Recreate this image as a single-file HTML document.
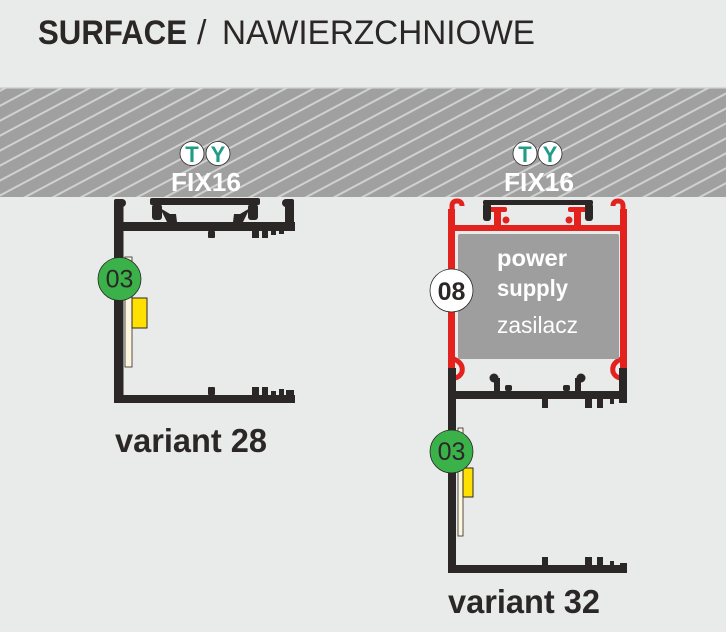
<!DOCTYPE html>
<html><head><meta charset="utf-8"><style>
html,body{margin:0;padding:0;background:#e9ebea;}
svg{display:block}
text{font-family:"Liberation Sans",sans-serif;}
</style></head><body>
<svg width="726" height="632" viewBox="0 0 726 632" xmlns="http://www.w3.org/2000/svg">
<defs>
<pattern id="h" patternUnits="userSpaceOnUse" width="30" height="13.2" patternTransform="rotate(-28)">
<rect width="30" height="13.2" fill="#a0a0a0"/>
<rect width="30" height="2" fill="#d0d2d1"/>
</pattern>
</defs>
<rect width="726" height="632" fill="#e9ebea"/>
<rect x="0" y="88" width="726" height="109" fill="url(#h)"/>
<rect x="0" y="87" width="726" height="1.5" fill="#d6d8d7"/>

<!-- Title -->
<text x="38" y="44" font-weight="bold" font-size="34" fill="#2b2727" textLength="149" lengthAdjust="spacingAndGlyphs">SURFACE</text>
<text x="197" y="44" font-size="34" fill="#2b2727">/</text>
<text x="222" y="44" font-size="34" fill="#2b2727" textLength="313" lengthAdjust="spacingAndGlyphs">NAWIERZCHNIOWE</text>

<!-- LEFT PROFILE (variant 28) -->
<g fill="#2b2727">
<rect x="114" y="199" width="9.5" height="204" rx="2"/>
<circle cx="122" cy="203" r="4"/>
<rect x="114" y="222" width="181" height="9"/>
<rect x="285" y="199" width="9" height="32" rx="2"/>
<circle cx="286" cy="203" r="4"/>
<rect x="114" y="395" width="181" height="8"/>
<rect x="208" y="231" width="7" height="7" rx="1"/>
<rect x="252" y="231" width="7" height="7"/>
<rect x="262" y="231" width="6" height="7"/>
<rect x="271" y="231" width="5" height="4"/>
<rect x="279" y="231" width="5" height="3"/>
<rect x="208" y="387" width="7" height="8" rx="1"/>
<rect x="252" y="387" width="7" height="8"/>
<rect x="262" y="387" width="6" height="8"/>
<rect x="271" y="391" width="5" height="4"/>
<rect x="279" y="389" width="5" height="6"/>
<rect x="286" y="390" width="8" height="5"/>
<rect x="150" y="198" width="110" height="7" rx="2"/>
<rect x="152" y="204" width="10" height="16" rx="3"/>
<path d="M160,208 L170,214 L176,214 L177,222 L167,222 L164,216 Z"/>
<rect x="248" y="204" width="10" height="16" rx="3"/>
<path d="M250,208 L240,214 L234,214 L233,222 L243,222 L246,216 Z"/>
</g>
<rect x="125" y="257" width="7" height="110" fill="#fdf6dc" stroke="#2b2727" stroke-width="0.8"/>
<rect x="132" y="298" width="15" height="30" fill="#ffe000" stroke="#2b2727" stroke-width="1"/>
<circle cx="119.5" cy="279" r="21.5" fill="#3bb14a" stroke="#2b2727" stroke-width="0.8"/>
<text x="119.5" y="287.5" font-size="25" fill="#2b2727" text-anchor="middle">03</text>

<circle cx="192" cy="153.5" r="12" fill="#fff" stroke="#2b2727" stroke-width="0.8"/>
<circle cx="218" cy="153.5" r="12" fill="#fff" stroke="#2b2727" stroke-width="0.8"/>
<text x="192" y="162" font-size="22" font-weight="bold" fill="#1f9c85" text-anchor="middle">T</text>
<text x="218" y="162" font-size="22" font-weight="bold" fill="#1f9c85" text-anchor="middle">Y</text>
<text x="206" y="191" font-size="26" font-weight="bold" fill="#fff" text-anchor="middle" textLength="70" lengthAdjust="spacingAndGlyphs">FIX16</text>

<text x="115" y="452" font-size="33" font-weight="bold" fill="#2b2727" textLength="152" lengthAdjust="spacingAndGlyphs">variant 28</text>

<!-- RIGHT PROFILE (variant 32) -->
<g fill="#e3211d">
<rect x="448" y="209" width="7" height="160"/>
<rect x="620" y="209" width="7" height="160"/>
<rect x="448" y="225" width="179" height="6"/>
<rect x="494" y="207" width="7" height="20"/>
<rect x="489" y="207" width="18" height="5" rx="2"/>
<circle cx="506" cy="220" r="3.5"/>
<rect x="574" y="207" width="7" height="20"/>
<rect x="568" y="207" width="18" height="5" rx="2"/>
<circle cx="569" cy="220" r="3.5"/>
</g>
<g fill="none" stroke="#e3211d" stroke-width="5">
<path d="M452,215 L452,206 Q452,201 457,201 Q462,201 462,206"/>
<path d="M623,215 L623,206 Q623,201 618,201 Q613,201 613,206"/>
<path d="M451,358 Q464,362 462,372 Q460,377 455,378"/>
<path d="M624,358 Q611,362 613,372 Q615,377 620,378"/>
</g>
<rect x="458" y="234" width="161" height="125" rx="2" fill="#9e9e9e"/>

<g fill="#2b2727">
<rect x="483" y="200" width="110" height="5" rx="2"/>
<rect x="483" y="203" width="8" height="18" rx="3"/>
<rect x="585" y="203" width="8" height="18" rx="3"/>
<rect x="448" y="368" width="8" height="205"/>
<rect x="619" y="368" width="8" height="35"/>
<rect x="448" y="391" width="179" height="8"/>
<rect x="448" y="565" width="179" height="8"/>
<rect x="542" y="399" width="6" height="9"/>
<rect x="585" y="399" width="7" height="9"/>
<rect x="597" y="399" width="6" height="9"/>
<rect x="610" y="399" width="4" height="5"/>
<rect x="542" y="557" width="6" height="8"/>
<rect x="585" y="557" width="7" height="8"/>
<rect x="597" y="557" width="6" height="8"/>
<rect x="610" y="561" width="4" height="4"/>
<rect x="620" y="563" width="7" height="2"/>
<circle cx="494" cy="378" r="4.5"/>
<rect x="494" y="378" width="6" height="13"/>
<rect x="505" y="385" width="7" height="6" rx="2"/>
<circle cx="581" cy="378" r="4.5"/>
<rect x="575" y="378" width="6" height="13"/>
<rect x="563" y="385" width="7" height="6" rx="2"/>
</g>

<text x="497" y="266" font-size="23" font-weight="bold" fill="#fff" textLength="70" lengthAdjust="spacingAndGlyphs">power</text>
<text x="497" y="296" font-size="23" font-weight="bold" fill="#fff" textLength="71" lengthAdjust="spacingAndGlyphs">supply</text>
<text x="497" y="333" font-size="23" fill="#fff" textLength="81" lengthAdjust="spacingAndGlyphs">zasilacz</text>

<circle cx="451.5" cy="290.5" r="21.5" fill="#fff" stroke="#2b2727" stroke-width="0.8"/>
<text x="451.5" y="300" font-size="25" font-weight="bold" fill="#2b2727" text-anchor="middle">08</text>

<rect x="458" y="428" width="5" height="108" fill="#fdf6dc" stroke="#2b2727" stroke-width="0.8"/>
<rect x="463" y="468" width="10" height="29" fill="#ffe000" stroke="#2b2727" stroke-width="1"/>
<circle cx="451.5" cy="451.5" r="21.5" fill="#3bb14a" stroke="#2b2727" stroke-width="0.8"/>
<text x="451.5" y="460" font-size="25" fill="#2b2727" text-anchor="middle">03</text>

<circle cx="525" cy="153.5" r="12" fill="#fff" stroke="#2b2727" stroke-width="0.8"/>
<circle cx="550" cy="153.5" r="12" fill="#fff" stroke="#2b2727" stroke-width="0.8"/>
<text x="525" y="162" font-size="22" font-weight="bold" fill="#1f9c85" text-anchor="middle">T</text>
<text x="550" y="162" font-size="22" font-weight="bold" fill="#1f9c85" text-anchor="middle">Y</text>
<text x="539" y="191" font-size="26" font-weight="bold" fill="#fff" text-anchor="middle" textLength="70" lengthAdjust="spacingAndGlyphs">FIX16</text>

<text x="448" y="613" font-size="33" font-weight="bold" fill="#2b2727" textLength="152" lengthAdjust="spacingAndGlyphs">variant 32</text>
</svg>
</body></html>
